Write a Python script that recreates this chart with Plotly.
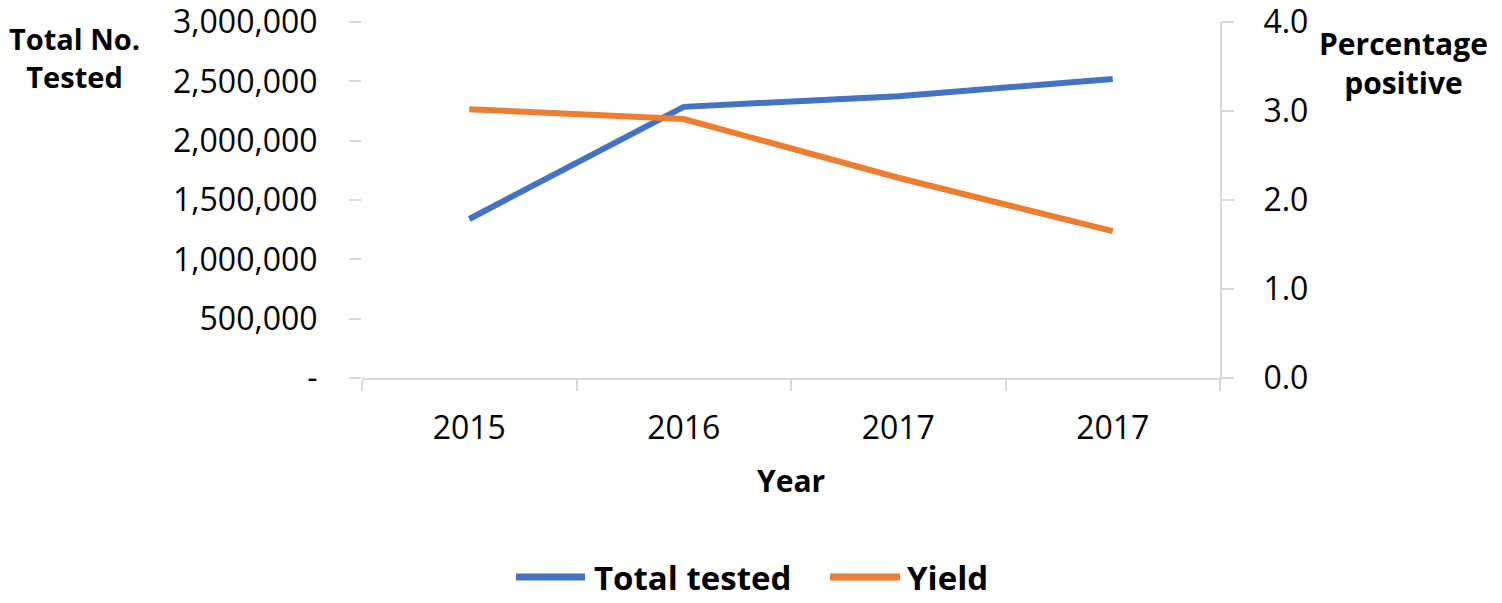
import plotly.graph_objects as go

# data
years = ["2015", "2016", "2017", "2017"]
total_tested = [1340000, 2285000, 2375000, 2520000]
yield_pct = [3.02, 2.91, 2.25, 1.65]

left_ticks = [0, 500000, 1000000, 1500000, 2000000, 2500000, 3000000]
left_text = ["-", "500,000", "1,000,000", "1,500,000", "2,000,000", "2,500,000", "3,000,000"]
right_ticks = [0, 1, 2, 3, 4]

series_names = ["Total tested", "Yield"]
series_colors = ["#4472C4", "#ED7D31"]

pos = list(range(len(years)))
grey = "#D9D9D9"
fnt = "Open Sans"

fig = go.Figure()
fig.add_trace(go.Scatter(x=pos, y=total_tested, name=series_names[0], mode="lines",
                         line=dict(color=series_colors[0], width=6)))
fig.add_trace(go.Scatter(x=pos, y=yield_pct, name=series_names[1], mode="lines", yaxis="y2",
                         line=dict(color=series_colors[1], width=6)))

# page body has an 8px margin, so margins are shifted to keep the plot in place
fig.update_layout(
    width=1502, height=603,
    margin=dict(l=354, r=290, t=14, b=233, autoexpand=False),
    paper_bgcolor="white", plot_bgcolor="white",
    font=dict(family=fnt, size=32, color="black"),
    showlegend=False,
    xaxis=dict(range=[-0.5, 3.5], tickvals=pos, ticktext=years, ticks="",
               ticklabelstandoff=21, showline=True, linecolor=grey, linewidth=2,
               showgrid=False, zeroline=False, automargin=False,
               minor=dict(tick0=-0.5, dtick=1, ticks="outside", ticklen=11,
                          tickcolor=grey, tickwidth=2, showgrid=False)),
    yaxis=dict(range=[0, 3000000], tickvals=left_ticks, ticktext=left_text,
               ticks="outside", ticklen=12, tickcolor=grey, tickwidth=2,
               ticklabelstandoff=25, ticklabeloverflow="allow", automargin=False,
               showline=False, showgrid=False, zeroline=False),
    yaxis2=dict(range=[0, 4], tickvals=right_ticks, tickformat=".1f", overlaying="y",
                side="right", showline=True, linecolor=grey, linewidth=2,
                ticks="outside", ticklen=12, tickcolor=grey, tickwidth=2,
                ticklabelstandoff=23, ticklabeloverflow="allow", automargin=False,
                showgrid=False, zeroline=False),
)

bold = dict(family=fnt, size=29, color="black", weight="bold")
fig.add_annotation(text="Total No.<br>Tested", xref="paper", yref="paper", x=-0.335, y=0.9,
                   showarrow=False, font=bold, xanchor="center", yanchor="middle")
fig.add_annotation(text="Percentage<br>positive", xref="paper", yref="paper", x=1.214, y=0.885,
                   showarrow=False, font=dict(bold, size=30), xanchor="center", yanchor="middle")
fig.add_annotation(text="Year", xref="paper", yref="paper", x=0.5, y=-0.287,
                   showarrow=False, font=dict(bold, size=30), xanchor="center", yanchor="middle")

# legend drawn by hand, Excel-style long line swatches
leg_y = -0.559
leg_items = [(0.1795, 0.2599, 0.268), (0.5455, 0.627, 0.633)]
for (x0, x1, xt), name, col in zip(leg_items, series_names, series_colors):
    fig.add_shape(type="line", xref="paper", yref="paper", x0=x0, x1=x1, y0=leg_y, y1=leg_y,
                  line=dict(color=col, width=7))
    fig.add_annotation(text=name, xref="paper", yref="paper", x=xt, y=leg_y,
                       showarrow=False, xanchor="left", yanchor="middle",
                       font=dict(family=fnt, size=33, color="black", weight="bold"))

fig.write_html("out.html")
